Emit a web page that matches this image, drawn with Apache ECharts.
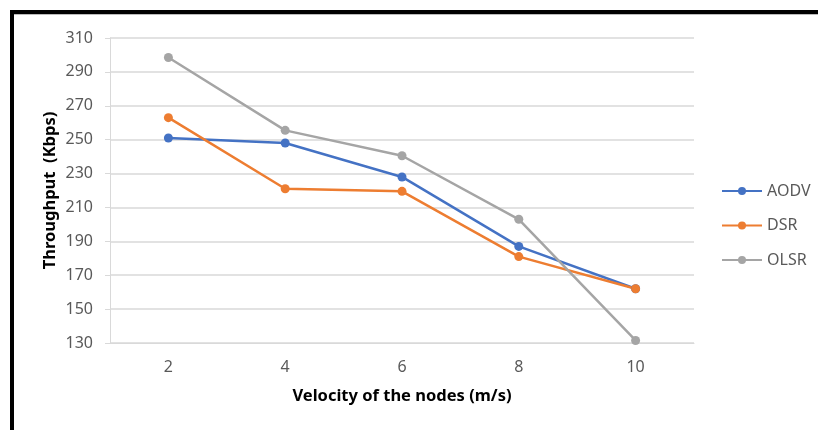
<!DOCTYPE html>
<html>
<head>
<meta charset="utf-8">
<script src="https://cdn.jsdelivr.net/npm/echarts@6/dist/echarts.min.js"></script>
<style>
html,body{margin:0;padding:0;background:#fff;}
#frame{position:absolute;left:10px;top:10px;width:808px;height:420px;border-left:4px solid #000;border-top:4px solid #000;box-shadow:0 1px 0 #bbb inset;}
#chart{position:absolute;left:0;top:0;width:818px;height:430px;}
</style>
</head>
<body>
<div id="frame"></div>
<div id="chart"></div>
<script>
var categories = ['2', '4', '6', '8', '10'];
var aodv = [251, 248, 228, 187, 162];
var dsr = [263, 221, 219.5, 181, 162];
var olsr = [298.5, 255.5, 240.5, 203, 131.5];
var seriesNames = ['AODV', 'DSR', 'OLSR'];
var colors = ['#4472C4', '#ED7D31', '#A5A5A5'];
var yMin = 130, yMax = 310, yStep = 20;

var chart = echarts.init(document.getElementById('chart'));
var font = '"Noto Sans", sans-serif';
function mk(name, data, color) {
  return {
    name: name, type: 'line', data: data, symbol: 'circle', symbolSize: 9,
    lineStyle: {width: 2.5, color: color}, itemStyle: {color: color}
  };
}
chart.setOption({
  animation: false,
  backgroundColor: 'transparent',
  grid: {left: 110, right: 124, top: 38, bottom: 87},
  legend: {
    orient: 'vertical', left: 716, top: 175, itemGap: 12.5,
    itemWidth: 40, itemHeight: 10,
    data: seriesNames,
    textStyle: {color: '#595959', fontSize: 16, fontFamily: font, lineHeight: 22}
  },
  xAxis: {
    type: 'category', data: categories, boundaryGap: true,
    name: 'Velocity of the nodes (m/s)', nameLocation: 'middle', nameGap: 45,
    nameMoveOverlap: false,
    nameTextStyle: {color: '#000', fontSize: 16.5, fontWeight: 'bold', fontFamily: font},
    axisLine: {lineStyle: {color: '#D9D9D9', width: 1}},
    axisTick: {show: false},
    axisLabel: {color: '#595959', fontSize: 16, fontFamily: font, margin: 16}
  },
  yAxis: {
    type: 'value', min: yMin, max: yMax, interval: yStep,
    name: 'Throughput  (Kbps)', nameLocation: 'middle', nameGap: 51,
    nameMoveOverlap: false,
    nameTextStyle: {color: '#000', fontSize: 16.5, fontWeight: 'bold', fontFamily: font},
    axisLine: {show: true, lineStyle: {color: '#D9D9D9', width: 1}},
    axisTick: {show: true, length: 5, lineStyle: {color: '#D9D9D9'}},
    axisLabel: {color: '#595959', fontSize: 16, fontFamily: font, margin: 17},
    splitLine: {lineStyle: {color: '#D9D9D9', width: 1.5}}
  },
  series: [mk(seriesNames[0], aodv, colors[0]), mk(seriesNames[1], dsr, colors[1]), mk(seriesNames[2], olsr, colors[2])]
});
</script>
</body>
</html>
